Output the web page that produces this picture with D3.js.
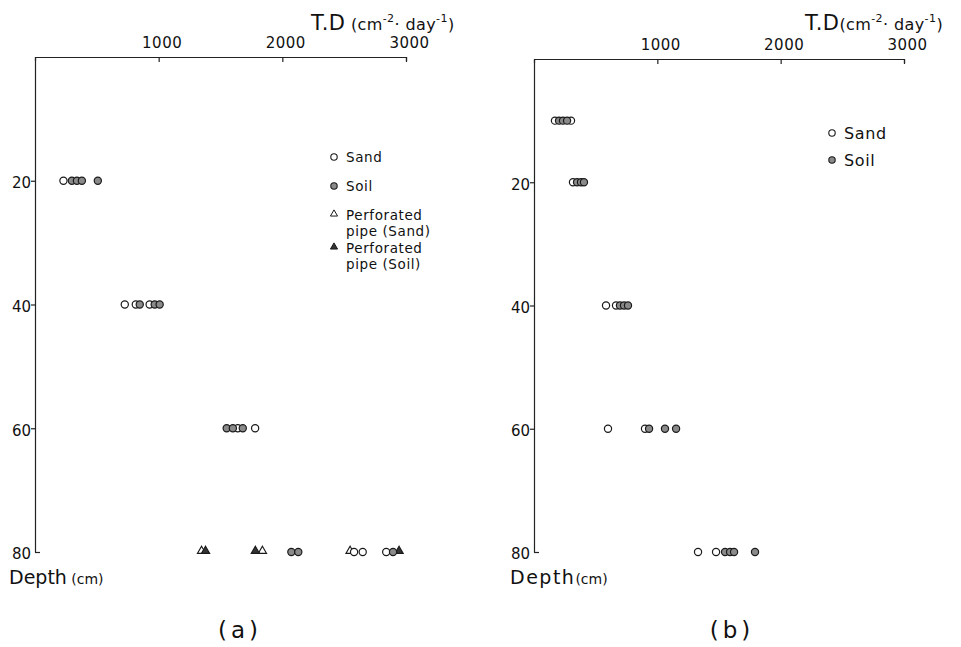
<html>
<head>
<script src="https://d3js.org/d3.v7.min.js"></script>
<style>
  body { margin: 0; background: #fff; }
  text { font-family: "DejaVu Sans", sans-serif; fill: #111; }
</style>
</head>
<body>
<div id="chart"></div>
<script>
// Panel (a) values (T.D in cm^-2 day^-1, depth in cm)
const sandA = [[230, 20], [726, 40], [815, 40], [927, 40], [1640, 60], [1780, 60], [2580, 80], [2650, 80], [2840, 80]];
const soilA = [[298, 20], [339, 20], [379, 20], [508, 20], [847, 40], [968, 40], [1008, 40], [1550, 60], [1600, 60], [1680, 60], [2073, 80], [2129, 80], [2895, 80]];
const pipeSandA = [[1347, 80], [1839, 80], [2548, 80]];
const pipeSoilA = [[1379, 80], [1782, 80], [2944, 80]];

// Panel (b)
const sandB = [[170, 10], [300, 10], [316, 20], [584, 40], [665, 40], [600, 60], [900, 60], [1330, 80], [1476, 80]];
const soilB = [[203, 10], [235, 10], [268, 10], [349, 20], [381, 20], [405, 20], [697, 40], [730, 40], [762, 40], [933, 60], [1062, 60], [1152, 60], [1549, 80], [1590, 80], [1622, 80], [1792, 80]];

const xTicks = [1000, 2000, 3000];
const yTicks = [20, 40, 60, 80];
const legendA = [["circle", "sand", ["Sand"]], ["circle", "soil", ["Soil"]],
                 ["triangle", "sand", ["Perforated", "pipe (Sand)"]], ["triangle", "soil", ["Perforated", "pipe (Soil)"]]];
const legendB = [["circle", "sand", ["Sand"]], ["circle", "soil", ["Soil"]]];

const svg = d3.select("#chart").append("svg")
  .attr("width", 961).attr("height", 647);

const fills = {sand: "#fff", soil: "#8a8a8a"};
const tri = d3.symbol().type(d3.symbolTriangle).size(30);

function drawPanel(p) {
  const x = d3.scaleLinear().domain([0, 3000]).range([p.left, p.right]);
  const y = d3.scaleLinear().domain([0, 80]).range([p.top, 552]);
  const g = svg.append("g");

  // top axis
  const ax = g.append("g").attr("transform", `translate(0,${p.top})`)
    .call(d3.axisTop(x).tickValues(xTicks).tickFormat(d3.format("d"))
      .tickSizeInner(-5).tickSizeOuter(-4).tickPadding(9));
  ax.selectAll("text").attr("font-size", 15).attr("letter-spacing", 0.5).attr("dx", 3)
    .style("font-family", "DejaVu Sans").attr("fill", "#111");
  ax.selectAll("path,line").attr("stroke", "#222").attr("stroke-width", 1.2);

  // left axis
  const ay = g.append("g").attr("transform", `translate(${p.left},0)`)
    .call(d3.axisLeft(y).tickValues(yTicks).tickSizeInner(4).tickSizeOuter(0).tickPadding(0));
  ay.selectAll(".tick line").filter(d => d === 80).attr("x2", 5);
  ay.selectAll("text").attr("font-size", 15).attr("dy", "0.45em")
    .style("font-family", "DejaVu Sans").attr("fill", "#111");
  ay.selectAll("path,line").attr("stroke", "#222").attr("stroke-width", 1.2);

  // markers
  function circles(data, kind) {
    g.append("g").selectAll("circle").data(data).join("circle")
      .attr("cx", d => x(d[0])).attr("cy", d => y(d[1])).attr("r", 3.6)
      .attr("fill", fills[kind]).attr("stroke", "#1a1a1a").attr("stroke-width", 1.2);
  }
  function triangles(data, kind) {
    g.append("g").selectAll("path").data(data).join("path")
      .attr("d", tri)
      .attr("transform", d => `translate(${x(d[0])},${y(d[1]) - 1})`)
      .attr("fill", kind === "sand" ? "#fff" : "#333").attr("stroke", "#1a1a1a").attr("stroke-width", 1.1);
  }
  if (p.pipeSand) triangles(p.pipeSand, "sand");
  if (p.pipeSoil) triangles(p.pipeSoil, "soil");
  circles(p.sand, "sand");
  circles(p.soil, "soil");

  // axis titles
  const t = g.append("text").attr("x", p.titleX).attr("y", 30).attr("letter-spacing", 0.4);
  t.append("tspan").attr("font-size", 21).text("T.D");
  t.append("tspan").attr("font-size", 16).text(p.gap + "(cm");
  t.append("tspan").attr("font-size", 11).attr("dy", -8).text("-2");
  t.append("tspan").attr("font-size", 16).attr("dy", 8).text("· day");
  t.append("tspan").attr("font-size", 11).attr("dy", -8).text("-1");
  t.append("tspan").attr("font-size", 16).attr("dy", 8).text(")");

  const dl = g.append("text").attr("x", p.depthX).attr("y", 584);
  dl.append("tspan").attr("font-size", 19).attr("letter-spacing", p.depthSpace).text("Depth");
  dl.append("tspan").attr("font-size", 14).text(p.gap + "(cm)");

  g.append("text").attr("x", p.labelX).attr("y", 638).attr("text-anchor", "middle")
    .attr("font-size", 23).attr("letter-spacing", 4).text(p.label);

  // legend
  const lg = g.append("g");
  let row = p.legendY;
  p.legend.forEach(([shape, kind, lines]) => {
    if (shape === "circle") {
      lg.append("circle").attr("cx", p.legendX).attr("cy", row).attr("r", 3.2)
        .attr("fill", fills[kind]).attr("stroke", "#1a1a1a").attr("stroke-width", 1.1);
    } else {
      lg.append("path").attr("d", d3.symbol().type(d3.symbolTriangle).size(22))
        .attr("transform", `translate(${p.legendX},${row - 1})`)
        .attr("fill", kind === "sand" ? "#fff" : "#333").attr("stroke", "#1a1a1a").attr("stroke-width", 1);
    }
    lines.forEach((ln, i) => {
      lg.append("text").attr("x", p.legendX + 12).attr("y", row + i * 16).attr("dy", "0.35em")
        .attr("font-size", p.legendSize).attr("letter-spacing", 0.6).text(ln);
    });
    row += lines.length > 1 ? 33 : p.legendStep;
  });
}

drawPanel({left: 35, right: 406, top: 57, sand: sandA, soil: soilA, pipeSand: pipeSandA, pipeSoil: pipeSoilA,
  titleX: 311, gap: " ", depthX: 9, depthSpace: 0, labelX: 240, label: "(a)",
  legend: legendA, legendX: 334, legendY: 157, legendStep: 29, legendSize: 13.5});
drawPanel({left: 534, right: 904, top: 59, sand: sandB, soil: soilB,
  titleX: 805, gap: "", depthX: 510, depthSpace: 1.5, labelX: 732, label: "(b)",
  legend: legendB, legendX: 832, legendY: 133, legendStep: 27, legendSize: 16});
</script>
</body>
</html>
